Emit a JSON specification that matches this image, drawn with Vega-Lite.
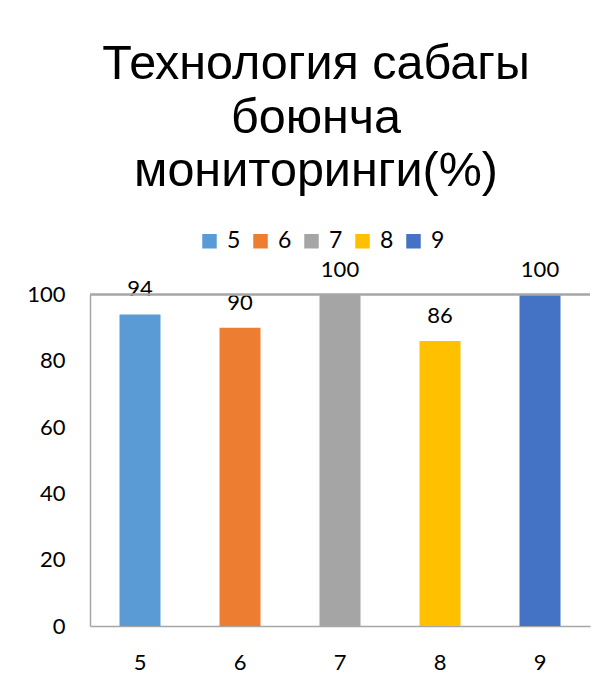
{
  "$schema": "https://vega.github.io/schema/vega-lite/v6.json",
  "width": 500,
  "height": 331.5,
  "autosize": {"type": "none"},
  "padding": {"left": 90, "top": 294.5, "right": 24, "bottom": 62},
  "background": "white",
  "title": {
    "text": ["Технология сабагы", "боюнча", "мониторинги(%)"],
    "font": "Liberation Sans",
    "fontSize": 48.5,
    "fontWeight": "normal",
    "lineHeight": 53.5,
    "color": "black",
    "anchor": "middle",
    "dx": -24,
    "offset": 33
  },
  "data": {
    "values": [
      {"class": "5", "value": 94},
      {"class": "6", "value": 90},
      {"class": "7", "value": 100},
      {"class": "8", "value": 86},
      {"class": "9", "value": 100}
    ]
  },
  "encoding": {
    "x": {
      "field": "class",
      "type": "nominal",
      "sort": null,
      "scale": {"paddingInner": 0.59, "paddingOuter": 0.295},
      "axis": {
        "title": null,
        "labelAngle": 0,
        "ticks": false,
        "domain": true,
        "domainColor": "#A6A6A6",
        "domainWidth": 1.5,
        "labelPadding": 26,
        "labelFont": "Lato",
        "labelFontSize": 22,
        "labelColor": "black"
      }
    },
    "y": {
      "field": "value",
      "type": "quantitative",
      "scale": {"domain": [0, 100], "nice": false},
      "axis": {
        "title": null,
        "values": [0, 20, 40, 60, 80, 100],
        "ticks": false,
        "grid": false,
        "domain": true,
        "domainColor": "#A6A6A6",
        "domainWidth": 1.5,
        "labelPadding": 25,
        "labelFont": "Lato",
        "labelFontSize": 22,
        "labelColor": "black"
      }
    }
  },
  "layer": [
    {
      "mark": {"type": "bar"},
      "encoding": {
        "color": {
          "field": "class",
          "type": "nominal",
          "scale": {
            "domain": ["5", "6", "7", "8", "9"],
            "range": ["#5B9BD5", "#ED7D31", "#A5A5A5", "#FFC000", "#4472C4"]
          },
          "legend": {
            "title": null,
            "orient": "none",
            "legendX": 108,
            "legendY": -65,
            "direction": "horizontal",
            "symbolType": "square",
            "symbolSize": 210,
            "symbolStrokeWidth": 0,
            "labelFont": "Lato",
            "labelFontSize": 23,
            "labelColor": "black",
            "labelOffset": 6,
            "columnPadding": 8
          }
        }
      }
    },
    {
      "mark": {
        "type": "text",
        "baseline": "alphabetic",
        "dy": -18,
        "font": "Lato",
        "fontSize": 22,
        "color": "black"
      },
      "encoding": {"text": {"field": "value", "type": "quantitative"}}
    },
    {
      "mark": {"type": "rule", "color": "#A6A6A6", "strokeWidth": 1.5},
      "encoding": {"y": {"datum": 100}, "x": null}
    }
  ],
  "config": {"view": {"stroke": null}}
}
